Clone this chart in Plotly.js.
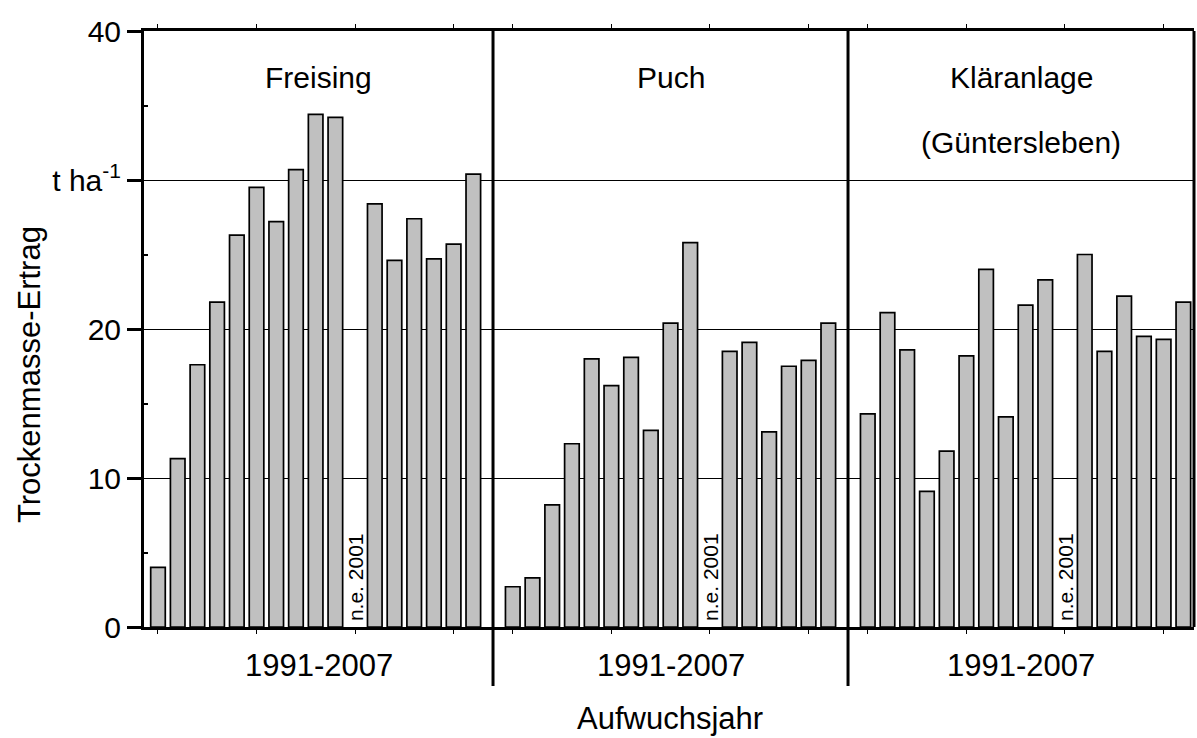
<!DOCTYPE html>
<html>
<head>
<meta charset="utf-8">
<script src="https://cdn.plot.ly/plotly-3.0.1.min.js"></script>
<style>html,body{margin:0;padding:0;background:#fff}#chart{width:1197px;height:738px}</style>
</head>
<body>
<div id="chart"></div>
<script>
// Data (t ha^-1), 1991-2007; 2001 not recorded (n.e.)
const years = [1991,1992,1993,1994,1995,1996,1997,1998,1999,2000,2001,2002,2003,2004,2005,2006,2007];
const sites = ["Freising", "Puch", "Kläranlage"];
const siteSub = ["", "", "(Güntersleben)"];
const freising = [4.0,11.3,17.6,21.8,26.3,29.5,27.2,30.7,34.4,34.2,null,28.4,24.6,27.4,24.7,25.7,30.4];
const puch     = [2.7,3.3,8.2,12.3,18.0,16.2,18.1,13.2,20.4,25.8,null,18.5,19.1,13.1,17.5,17.9,20.4];
const klaer    = [14.3,21.1,18.6,9.1,11.8,18.2,24.0,14.1,21.6,23.3,null,25.0,18.5,22.2,19.5,19.3,21.8];
const yTickVals = [0,10,20,30,40];
const yTickText = ["0","10","20","t ha<sup>-1</sup>","40"];
const periodLabel = "1991-2007";
const missingLabel = "n.e. 2001";
const missingYear = 2001;

const FONT = 'Arial, "Liberation Sans", sans-serif';
const series = [freising, puch, klaer];
const axisIds = ["x","x2","x3"];
const layoutKeys = ["xaxis","xaxis2","xaxis3"];
const domains = [[0,0.3324],[0.3324,0.6705],[0.6705,1]];
const ranges = [[years[0]-0.71, years[years.length-1]+1],[years[0]-1, years[years.length-1]+1],[years[0]-1, years[years.length-1]+0.54]];

const traces = series.map((vals,i)=>({
  type:"bar", x:years, y:vals, xaxis:axisIds[i], yaxis:"y",
  width:0.74,
  marker:{color:"#c0c0c0", line:{color:"#000", width:1.7}},
  hoverinfo:"x+y", showlegend:false
}));

const layout = {
  width:1197, height:738,
  margin:{l:144, r:3, t:31, b:111},
  paper_bgcolor:"#fff", plot_bgcolor:"#fff",
  font:{family:FONT, color:"#000", size:28},
  bargap:0,
  showlegend:false,
  yaxis:{
    range:[0,40], anchor:"x", tickmode:"array", tickvals:yTickVals, ticktext:yTickText,
    ticks:"outside", ticklen:14, tickwidth:3, tickcolor:"#000",
    showline:true, linewidth:3, linecolor:"#000",
    showgrid:true, gridcolor:"#000", gridwidth:1,
    zeroline:false, tickfont:{size:30, family:FONT},
    minor:{tickmode:"array", tickvals:[5,15,25,35], ticks:"inside", ticklen:4, tickwidth:2, tickcolor:"#000", showgrid:false}
  },
  annotations:[],
  shapes:[]
};

layoutKeys.forEach((k,i)=>{
  layout[k] = {
    domain:domains[i], range:ranges[i], anchor:"y",
    tickmode:"array", tickvals:[1991,1996,2001,2006], showticklabels:false,
    ticks:"outside", ticklen:4, tickwidth:1, tickcolor:"#000",
    showline:true, linewidth:3, linecolor:"#000", mirror:"ticks",
    showgrid:false, zeroline:false, fixedrange:true
  };
  // panel title
  layout.annotations.push({
    xref:axisIds[i]+" domain", yref:"paper", x:0.5, y:(627-77)/596,
    text:sites[i], showarrow:false, font:{size:30, family:FONT},
    yanchor:"middle", align:"center"
  });
  if (siteSub[i]) {
    layout.annotations.push({
      xref:axisIds[i]+" domain", yref:"paper", x:0.5, y:(627-142)/596,
      text:siteSub[i], showarrow:false, font:{size:30, family:FONT},
      yanchor:"middle", align:"center"
    });
  }
  // period label below
  layout.annotations.push({
    xref:axisIds[i]+" domain", yref:"paper", x:0.5, y:(627-665)/596,
    text:periodLabel, showarrow:false, font:{size:31, family:FONT}, yanchor:"middle"
  });
  // missing-year note
  layout.annotations.push({
    xref:axisIds[i], yref:"y", x:missingYear, y:0, yshift:4,
    text:missingLabel, textangle:-90, showarrow:false,
    font:{size:21, family:FONT}, yanchor:"bottom", xanchor:"center"
  });
});

// panel dividers extending below the axis
[domains[0][1], domains[1][1]].forEach(xp=>{
  layout.shapes.push({type:"line", xref:"paper", yref:"paper", x0:xp, x1:xp, y0:-(686-627)/596, y1:1, line:{color:"#000", width:3}});
});
// right frame
layout.shapes.push({type:"line", xref:"paper", yref:"paper", x0:1, x1:1, y0:0, y1:1, line:{color:"#000", width:3}});

// axis titles
layout.annotations.push({
  xref:"paper", yref:"paper", x:(670-144)/1050, y:(627-718)/596,
  text:"Aufwuchsjahr", showarrow:false, font:{size:31, family:FONT}, yanchor:"middle"
});
layout.annotations.push({
  xref:"paper", yref:"paper", x:(29-144)/1050, y:(627-375)/596,
  text:"Trockenmasse-Ertrag", textangle:-90, showarrow:false, font:{size:31, family:FONT},
  xanchor:"center", yanchor:"middle"
});

Plotly.newPlot("chart", traces, layout, {staticPlot:true});
</script>
</body>
</html>
